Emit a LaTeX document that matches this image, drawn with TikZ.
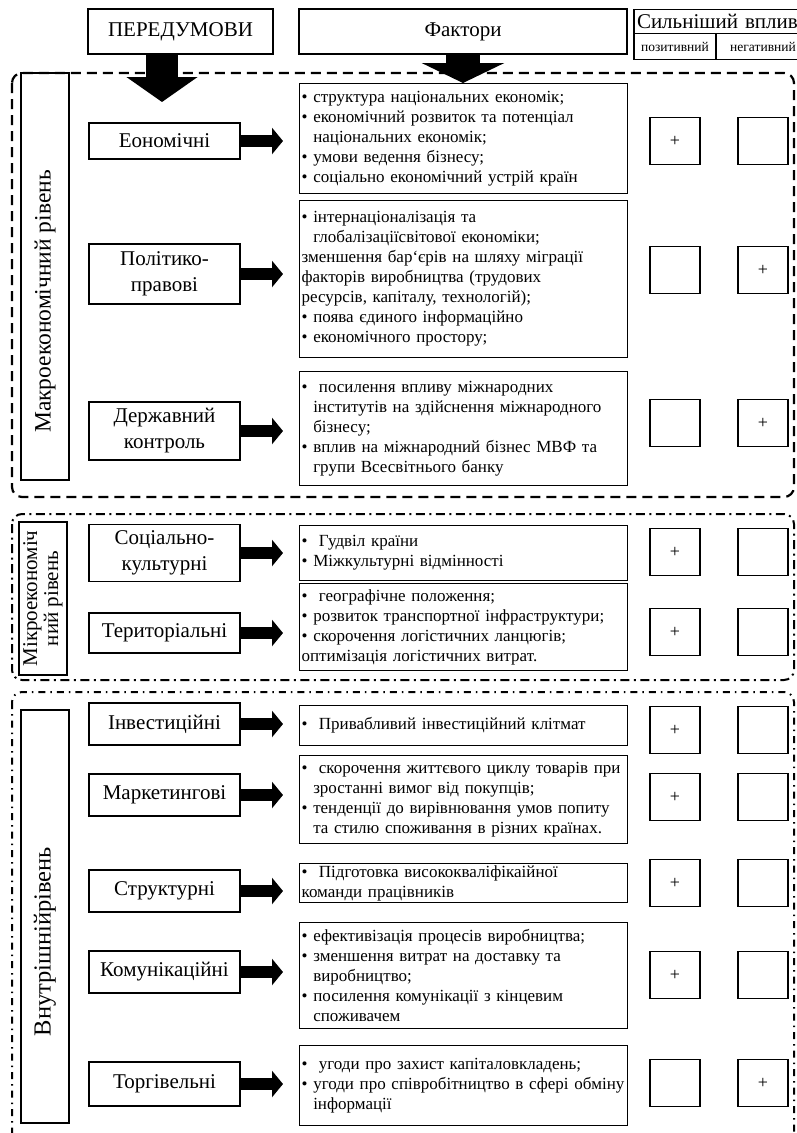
\documentclass[tikz,border=0pt]{standalone}
\usepackage{fontspec}
\setmainfont{Liberation Serif}
\usetikzlibrary{arrows.meta}
\newcommand\hg{\phantom{\textbullet\ }}
\newcommand\Lb[1]{\mbox{\textbullet\ #1}}
\newcommand\Li[1]{\mbox{\hg #1}}
\newcommand\Ln[1]{\mbox{#1}}
\tikzset{
 box/.style={draw, line width=1.3pt, inner sep=1pt},
 hdr/.style={box, font=\fontsize{21}{25}\selectfont},
 lbl/.style={box, minimum width=151pt, align=center, font=\fontsize{21}{26}\selectfont},
 fac/.style={box, anchor=north west, align=left, text width=324pt, inner xsep=2pt, font=\fontsize{17}{20}\selectfont},
 pm/.style={box, line width=1.1pt, minimum width=50pt, minimum height=47pt, font=\fontsize{18}{20}\selectfont},
 side/.style={box, rotate=90, minimum height=48pt, align=center, font=\fontsize{23.5}{23.5}\selectfont},
 flow/.style={line width=12pt, -{Triangle[length=11pt,width=26pt]}, shorten >=16pt},
 macro/.style={line width=2.2pt, dash pattern=on 10pt off 6pt, rounded corners=10pt},
 micro/.style={line width=2pt, dash pattern=on 9pt off 4.5pt on 2pt off 4.5pt, rounded corners=10pt},
 inner/.style={line width=2pt, dash pattern=on 7pt off 5pt on 1.5pt off 5pt, rounded corners=10pt},
}
\begin{document}
\begin{tikzpicture}[x=1pt,y=-1pt]
\useasboundingbox (0,0) rectangle (797,1133);
% header
\node[hdr, minimum width=185pt, minimum height=45pt] (h1) at (180.5,31.5) {ПЕРЕДУМОВИ};
\node[hdr, minimum width=328pt, minimum height=45pt] (h2) at (463,31.5) {Фактори};
\node[box, inner ysep=0pt, inner xsep=3pt, text width=170pt, align=left, minimum height=24pt, font=\fontsize{21}{22}\selectfont] (sv) at (722,21.5) {Сильніший вплив};
\node[box, inner sep=0pt, minimum width=82pt, minimum height=26pt, font=\fontsize{13.5}{14}\selectfont] (poz) at (675,46.5) {позитивний};
\node[box, inner sep=0pt, minimum width=94pt, minimum height=26pt, font=\fontsize{13.5}{14}\selectfont] (neg) at (763,46.5) {негативний};

% containers
\draw[macro] (12,73) rectangle (794,497);
\draw[micro] (12,514) rectangle (794,680);
\draw[inner] (12,692) rectangle (794,1150);

% side labels
\node[side, minimum width=407pt] (sl1) at (45,276.5) {Макроекономічний рівень\hspace*{50pt}};
\node[side, minimum width=153pt, font=\fontsize{21}{21}\selectfont] (sl2) at (43,598.5) {Мікроекономіч\\ний рівень};
\node[side, minimum width=413pt, font=\fontsize{24.5}{24.5}\selectfont] (sl3) at (45,916.5) {Внутрішнійрівень\hspace*{50pt}};

% factor boxes
\node[fac, minimum height=110pt] (f1) at (299,83) {\Lb{структура національних економік;}\\
\Lb{економічний розвиток та потенціал}\\
\Li{національних економік;}\\
\Lb{умови ведення бізнесу;}\\
\Lb{соціально економічний устрій країн}};
\node[fac, minimum height=157pt] (f2) at (299,200) {\Lb{інтернаціоналізація та}\\
\Li{глобалізаціїсвітової економіки;}\\
\Ln{зменшення бар`єрів на шляху міграції}\\
\Ln{факторів виробництва (трудових}\\
\Ln{ресурсів, капіталу, технологій);}\\
\Lb{поява єдиного інформаційно}\\
\Lb{економічного простору;}\\[4pt]};
\node[fac, minimum height=114pt] (f3) at (299,371) {\Lb{\ посилення впливу міжнародних}\\
\Li{інститутів на здійснення міжнародного}\\
\Li{бізнесу;}\\
\Lb{вплив на міжнародний бізнес МВФ та}\\
\Li{групи Всесвітнього банку}};
\node[fac, minimum height=55pt] (f4) at (299,525) {\Lb{\ Гудвіл країни}\\
\Lb{Міжкультурні відмінності}};
\node[fac, minimum height=87pt] (f5) at (299,583) {\Lb{\ географічне положення;}\\
\Lb{розвиток транспортної інфраструктури;}\\
\Lb{скорочення логістичних ланцюгів;}\\
\Ln{оптимізація логістичних витрат.}};
\node[fac, minimum height=40pt] (f6) at (299,705) {\Lb{\ Привабливий інвестиційний клітмат}};
\node[fac, minimum height=88pt] (f7) at (299,755) {\Lb{\ скорочення життєвого циклу товарів при}\\
\Li{зростанні вимог від покупців;}\\
\Lb{тенденції до вирівнювання умов попиту}\\
\Li{та стилю споживання в різних країнах.}};
\node[fac, minimum height=39pt] (f8) at (299,863) {\Lb{\ Підготовка висококваліфікаійної}\\
\Ln{команди працівників}};
\node[fac, minimum height=106pt] (f9) at (299,922) {\Lb{ефективізація процесів виробництва;}\\
\Lb{зменшення витрат на доставку та}\\
\Li{виробництво;}\\
\Lb{посилення комунікації з кінцевим}\\
\Li{споживачем}};
\node[fac, minimum height=80pt] (f10) at (299,1045) {\Lb{\ угоди про захист капіталовкладень;}\\
\Lb{угоди про співробітництво в сфері обміну}\\
\Li{інформації}};

% left labels
\node[lbl, minimum height=36pt] (l1) at (164.5,141) {Еономічні};
\node[lbl, minimum height=60pt] (l2) at (164.5,274) {Політико-\\правові};
\node[lbl, minimum height=58pt] (l3) at (164.5,431) {Державний\\контроль};
\node[lbl, minimum height=57pt] (l4) at (164.5,553) {Соціально-\\культурні};
\node[lbl, minimum height=40pt] (l5) at (164.5,633) {Територіальні};
\node[lbl, minimum height=42pt] (l6) at (164.5,724) {Інвестиційні};
\node[lbl, minimum height=42pt] (l7) at (164.5,795) {Маркетингові};
\node[lbl, minimum height=42pt] (l8) at (164.5,891) {Структурні};
\node[lbl, minimum height=42pt] (l9) at (164.5,972) {Комунікаційні};
\node[lbl, minimum height=44pt] (l10) at (164.5,1084) {Торгівельні};

% plus boxes
\node[pm] (p1) at (675,141) {+};   \node[pm] (n1) at (763,141) {};
\node[pm] (p2) at (675,270) {};    \node[pm] (n2) at (763,270) {+};
\node[pm] (p3) at (675,423) {};    \node[pm] (n3) at (763,423) {+};
\node[pm] (p4) at (675,552) {+};   \node[pm] (n4) at (763,552) {};
\node[pm] (p5) at (675,632) {+};   \node[pm] (n5) at (763,632) {};
\node[pm] (p6) at (675,730) {+};   \node[pm] (n6) at (763,730) {};
\node[pm] (p7) at (675,797) {+};   \node[pm] (n7) at (763,797) {};
\node[pm] (p8) at (675,883) {+};   \node[pm] (n8) at (763,883) {};
\node[pm] (p9) at (675,975) {+};   \node[pm] (n9) at (763,975) {};
\node[pm] (p10) at (675,1083) {};  \node[pm] (n10) at (763,1083) {+};

% big arrows
\coordinate (t1) at (162,102);
\draw[line width=32pt, -{Triangle[length=25pt,width=70pt]}] (h1.south -| t1) -- (t1);
\draw[line width=34pt, -{Triangle[length=20pt,width=82pt]}] (h2.south) -- (h2.south |- f1.north);

% small arrows
\foreach \i in {1,...,10} {
  \draw[flow] (l\i.east) -- (l\i.east -| f\i.west);
}
\end{tikzpicture}
\end{document}
